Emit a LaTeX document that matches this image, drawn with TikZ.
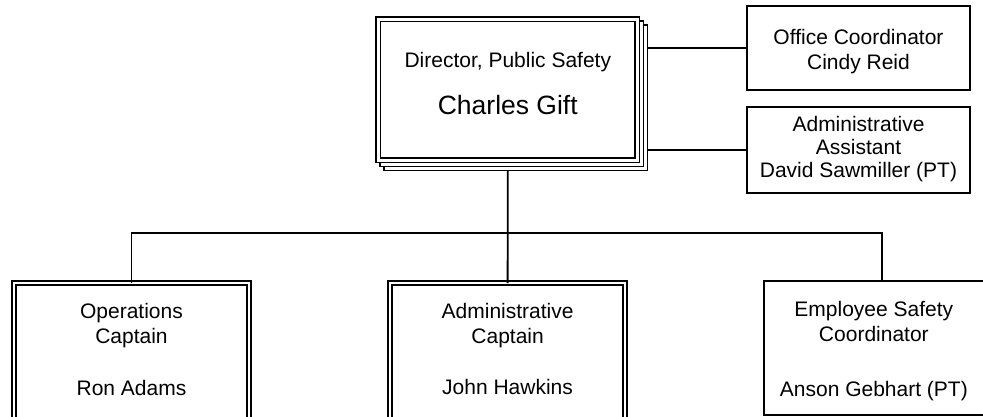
\documentclass[tikz,border=0pt]{standalone}
\usepackage{fontspec}
\setmainfont{Liberation Sans}
\usepackage{tikz}
\usetikzlibrary{calc, positioning, backgrounds}
\tikzset{
    box/.style={rectangle, draw=black, line width=1.8pt, fill=white, inner sep=0pt, outer sep=0pt},
    dbox/.style={rectangle, draw=black, line width=1.8pt, double=white, double distance=2.5pt, fill=white, inner sep=0pt, outer sep=0pt},
    stackpage/.style={draw=black, line width=1.5pt, fill=white},
    txt/.style={align=center, inner sep=0pt, outer sep=0pt, anchor=north, font=\fontsize{21pt}{25pt}\selectfont},
    link/.style={draw=black, line width=1.8pt}
}

\begin{document}
\begin{tikzpicture}[x=1pt, y=-1pt]
        \useasboundingbox (0,0) rectangle (983,417);
        \clip (0,0) rectangle (983,417);

        % Director and staff
        \node[dbox, minimum width=259pt, minimum height=141pt] (Director) at (507.8,89.85) {};
        \node[box, minimum width=223pt, minimum height=84pt] (OfficeCoord) at (858.5,48) {};
        \node[box, minimum width=223pt, minimum height=85.4pt] (AdminAsst) at (858.5,150) {};

        % Stacked pages behind the director
        \begin{scope}[on background layer]
            \fill[white] (0,0) rectangle (983,417);
            \foreach \k in {2,1}
                \draw[stackpage] ($(Director.north west)+(-2.15+4*\k,-2.15+4*\k)$) rectangle ($(Director.south east)+(2.15+4*\k,2.15+4*\k)$);
        \end{scope}

        % Captains and coordinator
        \node[dbox, minimum width=235.4pt, minimum height=160pt, anchor=north] (OpsCapt) at (131.5,283.2) {};
        \node[dbox, minimum width=234.8pt, minimum height=160pt, anchor=north] (AdminCapt) at (507.6,283.2) {};
        \node[box, minimum width=220.3pt, minimum height=134.3pt, anchor=north west] (SafetyCoord) at (763.7,281) {};

        % Texts
        \node[txt, below=33.3pt of Director.north] (DirTitle) {Director, Public Safety};
        \node[txt, font=\fontsize{26.5pt}{31pt}\selectfont, below=75.6pt of Director.north] (DirName) {Charles Gift};
        \node[txt, below=23.7pt of OfficeCoord.north] (OfficeCoordTxt) {Office Coordinator\\Cindy Reid};
        \node[txt, font=\fontsize{21pt}{23.3pt}\selectfont, below=8.7pt of AdminAsst.north] (AdminAsstTxt) {Administrative\\Assistant\\David Sawmiller (PT)};
        \node[txt, below=19.7pt of OpsCapt.north] (OpsCaptTxt) {Operations\\Captain\\[27pt]Ron Adams};
        \node[txt, below=20pt of AdminCapt.north] (AdminCaptTxt) {Administrative\\Captain\\[26pt]John Hawkins};
        \node[txt, below=20.7pt of SafetyCoord.north] (SafetyCoordTxt) {Employee Safety\\Coordinator\\[30pt]Anson Gebhart (PT)};

        % Connections
        \coordinate (Stack) at ($(Director.south east)+(10.15,10.15)$);
        \coordinate (Bus) at (507.7,232.7);
        \draw[link] (OfficeCoord.west) -- (OfficeCoord.west -| Stack);
        \draw[link] (AdminAsst.west) -- (AdminAsst.west -| Stack);
        \draw[link] (Director.south |- Stack) -- (Bus);
        \draw[link] (OpsCapt.north) |- (Bus) -| ($(SafetyCoord.north)+(7.85,0)$);
        \draw[link] (Bus) -- (AdminCapt.north);

    \end{tikzpicture}
\end{document}
